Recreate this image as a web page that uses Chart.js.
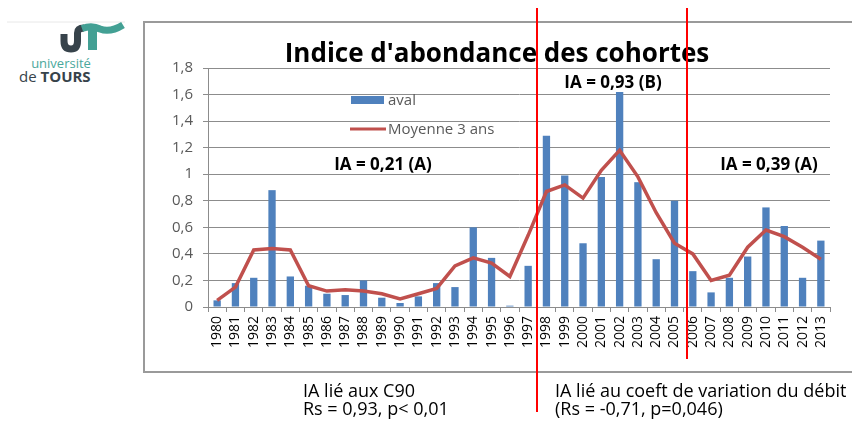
<!DOCTYPE html>
<html lang="fr">
<head>
<meta charset="UTF-8">
<title>Indice d'abondance des cohortes</title>
<script src="https://cdn.jsdelivr.net/npm/chart.js@4.4.1/dist/chart.umd.min.js"></script>
<style>
  body {
    margin: 0;
    width: 852px;
    height: 423px;
    background: #fff;
    position: relative;
    overflow: hidden;
    font-family: 'Open Sans', sans-serif;
  }
  #cadre {
    position: absolute;
    left: 143px;
    top: 21px;
    width: 720px;
    height: 348px;
    border: 2px solid #9a9a9a;
  }
  #logo {
    position: absolute;
    left: 0;
    top: 0;
  }
  canvas {
    position: absolute;
    left: 0;
    top: 0;
  }
</style>
</head>
<body>
<div id="cadre"></div>
<svg id="logo" width="140" height="100" viewBox="0 0 140 100">
  <line x1="7" y1="22" x2="125" y2="22" stroke="#e8e8e8" stroke-width="1"/>
  <path d="M64 34 L64 41 Q64 49 71 49 Q77.5 49 77.5 41 L77.5 33 Q77.5 28 84 28" fill="none" stroke="#37434b" stroke-width="7"/>
  <path d="M82 28.5 Q92 25 100 29 Q110 33 123 25" fill="none" stroke="#43a094" stroke-width="7"/>
  <rect x="88" y="28" width="9" height="22" fill="#43a094"/>
  <text x="61" y="68" text-anchor="middle" font-family="Open Sans" font-size="13" fill="#4aa89c">université</text>
  <text x="19" y="82" font-family="Open Sans" font-size="15" fill="#37434b">de <tspan font-weight="bold">TOURS</tspan></text>
</svg>
<canvas id="graphique" width="852" height="423"></canvas>
<script>
// années des cohortes
const annees = ['1980', '1981', '1982', '1983', '1984', '1985', '1986', '1987', '1988', '1989',
  '1990', '1991', '1992', '1993', '1994', '1995', '1996', '1997', '1998', '1999',
  '2000', '2001', '2002', '2003', '2004', '2005', '2006', '2007', '2008', '2009',
  '2010', '2011', '2012', '2013'];

// indice d'abondance, station aval
const aval = [0.05, 0.18, 0.22, 0.88, 0.23, 0.16, 0.10, 0.09, 0.20, 0.07,
  0.03, 0.08, 0.18, 0.15, 0.60, 0.37, 0.01, 0.31, 1.29, 0.99,
  0.48, 0.98, 1.62, 0.94, 0.36, 0.80, 0.27, 0.11, 0.22, 0.38,
  0.75, 0.61, 0.22, 0.50];

// moyenne mobile sur 3 ans
const moyenne3ans = [0.05, 0.15, 0.43, 0.44, 0.43, 0.16, 0.12, 0.13, 0.12, 0.10,
  0.06, 0.10, 0.14, 0.31, 0.37, 0.33, 0.23, 0.54, 0.87, 0.92,
  0.82, 1.03, 1.18, 0.98, 0.71, 0.48, 0.40, 0.20, 0.24, 0.45,
  0.58, 0.53, 0.45, 0.36];

const yMin = 0, yMax = 1.8, yPas = 0.2;

// coupures entre périodes (en index de catégorie)
const coupures = [17.5, 25.67];

const gris = '#8c8c8c';
const texteGris = '#595959';

// texte : titre, légende, IA par période, corrélations
const decor = {
  id: 'decor',
  afterDraw(chart) {
    const ctx = chart.ctx;
    const x = chart.scales.x;
    const ds = chart.data.datasets;
    ctx.save();

    // titre
    ctx.fillStyle = '#000';
    ctx.font = 'bold 26px "Open Sans"';
    ctx.textAlign = 'center';
    ctx.textBaseline = 'alphabetic';
    ctx.fillText("Indice d'abondance des cohortes", 497, 62);

    // légende
    ctx.fillStyle = ds[1].backgroundColor;
    ctx.fillRect(351, 96, 33, 8);
    ctx.strokeStyle = ds[0].borderColor;
    ctx.lineWidth = 3;
    ctx.beginPath();
    ctx.moveTo(350, 129);
    ctx.lineTo(386, 129);
    ctx.stroke();
    ctx.fillStyle = texteGris;
    ctx.font = '15px "Open Sans"';
    ctx.textAlign = 'left';
    ctx.fillText(ds[1].label, 388, 105);
    ctx.fillText(ds[0].label, 388, 134);

    // IA par période
    ctx.fillStyle = '#000';
    ctx.font = 'bold 17px "Open Sans"';
    ctx.textAlign = 'center';
    ctx.fillText('IA = 0,21 (A)', 383, 170);
    ctx.fillText('IA = 0,93 (B)', 613, 88);
    ctx.fillText('IA = 0,39 (A)', 769, 170);

    // lignes de coupure
    ctx.strokeStyle = '#ff0000';
    ctx.lineWidth = 2;
    const bas = [412, 359];
    coupures.forEach((c, i) => {
      const px = Math.round(x.getPixelForValue(c));
      ctx.beginPath();
      ctx.moveTo(px, 8);
      ctx.lineTo(px, bas[i]);
      ctx.stroke();
    });

    // corrélations
    ctx.fillStyle = '#000';
    ctx.font = '18px "Open Sans"';
    ctx.textAlign = 'left';
    ctx.fillText('IA lié aux C90', 303, 397);
    ctx.fillText('Rs = 0,93, p< 0,01', 303, 415);
    ctx.fillText('IA lié au coeft de variation du débit', 555, 397);
    ctx.fillText('(Rs = -0,71, p=0,046)', 555, 415);

    ctx.restore();
  }
};

function virgule(v) {
  return String(Math.round(v * 10) / 10).replace('.', ',');
}

new Chart(document.getElementById('graphique'), {
  data: {
    labels: annees,
    datasets: [
      {
        type: 'line',
        label: 'Moyenne 3 ans',
        data: moyenne3ans,
        borderColor: '#c0504d',
        borderWidth: 3.5,
        pointRadius: 0,
        tension: 0,
        order: 0
      },
      {
        type: 'bar',
        label: 'aval',
        data: aval,
        backgroundColor: '#4f81bd',
        barPercentage: 0.8,
        categoryPercentage: 0.5,
        order: 1
      }
    ]
  },
  options: {
    responsive: false,
    animation: false,
    devicePixelRatio: 1,
    layout: { padding: { left: 148, right: 22, top: 68, bottom: 66 } },
    plugins: {
      legend: { display: false },
      title: { display: false },
      tooltip: { enabled: false }
    },
    scales: {
      x: {
        offset: true,
        afterFit(s) { s.height = 50; },
        grid: { drawOnChartArea: false, drawTicks: true, tickLength: 5, color: gris, offset: true },
        border: { color: gris },
        ticks: {
          minRotation: 90,
          maxRotation: 90,
          autoSkip: false,
          padding: 4,
          color: '#000',
          font: { family: 'Open Sans', size: 14 }
        }
      },
      y: {
        min: yMin,
        max: yMax,
        afterFit(s) { s.width = 60; },
        grid: { color: gris, tickLength: 5 },
        border: { color: gris },
        ticks: {
          stepSize: yPas,
          padding: 10,
          color: texteGris,
          font: { family: 'Open Sans', size: 15 },
          callback: v => virgule(v)
        }
      }
    }
  },
  plugins: [decor]
});
</script>
</body>
</html>
